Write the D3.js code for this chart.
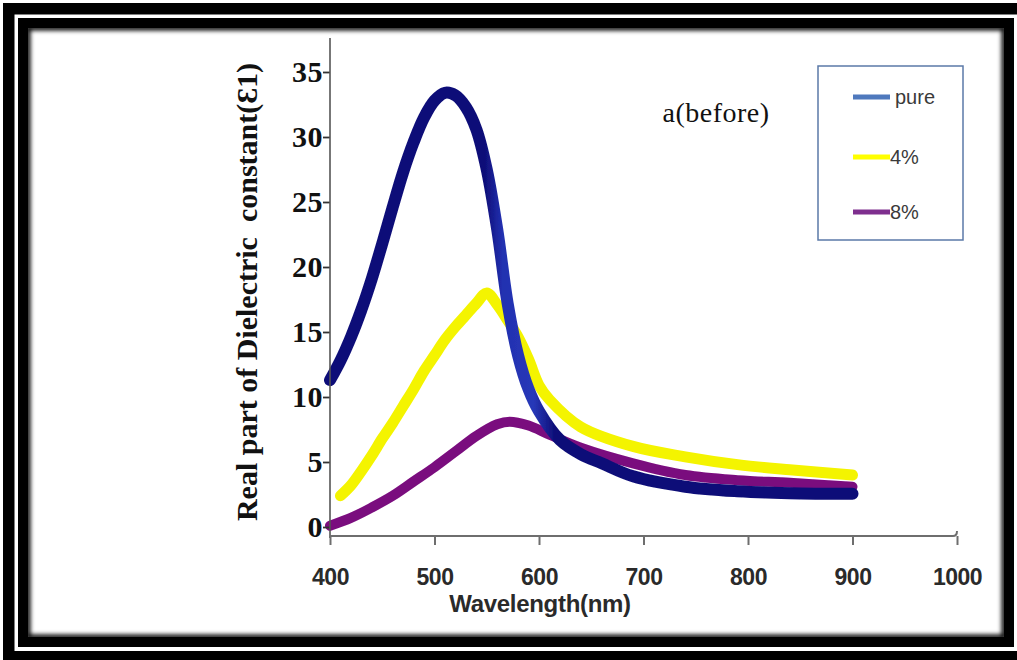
<!DOCTYPE html>
<html>
<head>
<meta charset="utf-8">
<script src="https://cdn.jsdelivr.net/npm/d3@7/dist/d3.min.js"></script>
<style>
  html, body { margin: 0; padding: 0; background: #fff; }
  svg { display: block; }
</style>
</head>
<body>
<svg id="chart" width="1017" height="660"></svg>
<script>
// Real part of the dielectric constant vs wavelength, three samples
const pureWavelength = [400,410,420,430,440,450,460,470,480,490,500,510,520,530,540,550,560,570,580,590,600,620,640,660,690,740,790,840,900];
const pureEps1      = [11.3,12.8,14.6,16.7,19.1,21.8,24.6,27.3,29.6,31.5,32.8,33.4,33.2,32.3,30.6,27.5,22.9,17.2,13.2,10.6,8.9,6.7,5.6,4.9,3.9,3.1,2.75,2.6,2.55];

const dope4Wavelength = [410,420,430,440,450,460,470,480,490,500,510,520,530,540,550,560,570,580,590,600,610,640,690,740,790,840,900];
const dope4Eps1       = [2.4,3.2,4.3,5.5,6.8,8.0,9.3,10.6,12.0,13.2,14.4,15.4,16.3,17.2,18.0,17.1,15.9,14.6,12.9,10.9,9.8,7.7,6.2,5.4,4.8,4.4,4.0];

const dope8Wavelength = [400,420,440,460,480,500,520,540,560,572,590,610,640,690,740,790,840,900];
const dope8Eps1       = [0.1,0.7,1.5,2.4,3.5,4.6,5.8,7.0,7.9,8.1,7.8,7.1,6.1,4.9,4.0,3.6,3.4,3.1];

const xTicks = [400,500,600,700,800,900,1000];
const yTicks = [0,5,10,15,20,25,30,35];

const seriesNames  = ["pure", "4%", "8%"];
const legendColors = ["#4f79bd", "#ffff00", "#7e2f8e"];
const curveColors  = ["#0e0e78", "#f4f400", "#7a0a7e"];

const svg = d3.select("#chart");
const W = 1017, H = 660;

// scales
const x = d3.scaleLinear().domain([400, 1000]).range([330, 957]);
const y = d3.scaleLinear().domain([0, 35]).range([527, 72]);
const xAxisY = y(0) + 9;

const defs = svg.append("defs");
defs.append("filter").attr("id", "soft").append("feGaussianBlur").attr("stdDeviation", 0.7);
defs.append("filter").attr("id", "shadow").append("feGaussianBlur").attr("stdDeviation", 2);
defs.append("clipPath").attr("id", "inner")
  .append("rect").attr("x", 28).attr("y", 28).attr("width", 976).attr("height", 609);

// the pure trace turns a slightly brighter blue on its steep falling edge
const pureGrad = defs.append("linearGradient").attr("id", "pureGrad")
  .attr("gradientUnits", "userSpaceOnUse")
  .attr("x1", x(548)).attr("x2", x(615)).attr("y1", 0).attr("y2", 0);
[[0, curveColors[0]], [0.25, "#2230b0"], [0.7, "#2838b8"], [1, curveColors[0]]]
  .forEach(([o, c]) => pureGrad.append("stop").attr("offset", o).attr("stop-color", c));

// page background
svg.append("rect").attr("width", W).attr("height", H).attr("fill", "#fff");

// double black frame
svg.append("rect").attr("x", 8.75).attr("y", 8.75).attr("width", 1030).attr("height", 648)
  .attr("fill", "none").attr("stroke", "#000").attr("stroke-width", 11.5);
svg.append("rect").attr("x", 23).attr("y", 23).attr("width", 986).attr("height", 619)
  .attr("fill", "none").attr("stroke", "#000").attr("stroke-width", 10);
svg.append("g").attr("clip-path", "url(#inner)")
  .append("rect").attr("x", 28).attr("y", 28).attr("width", 976).attr("height", 609)
  .attr("fill", "none").attr("stroke", "#000").attr("stroke-width", 5)
  .attr("filter", "url(#shadow)");

// curves (dense marker traces drawn as thick soft strokes)
const line = d3.line()
  .x(d => x(d[0])).y(d => y(d[1]))
  .curve(d3.curveCatmullRom.alpha(0.5));

const curves = [
  { data: d3.zip(dope4Wavelength, dope4Eps1), color: curveColors[1], width: 11 },
  { data: d3.zip(dope8Wavelength, dope8Eps1), color: curveColors[2], width: 10 },
  { data: d3.zip(pureWavelength, pureEps1),  color: "url(#pureGrad)", width: 12 }
];

const plot = svg.append("g").attr("filter", "url(#soft)");
curves.forEach(c => {
  plot.append("path").datum(c.data)
    .attr("d", line)
    .attr("fill", "none")
    .attr("stroke", c.color)
    .attr("stroke-width", c.width)
    .attr("stroke-linecap", "round")
    .attr("stroke-linejoin", "round");
});

// y axis
const yAxis = svg.append("g")
  .attr("transform", "translate(330,0)")
  .call(d3.axisLeft(y).tickValues(yTicks).tickSize(7).tickPadding(0).tickFormat(d3.format("d")));
yAxis.select(".domain").remove();
yAxis.append("line").attr("x1", 0).attr("x2", 0).attr("y1", 38).attr("y2", xAxisY + 2)
  .attr("stroke", "#555").attr("stroke-width", 1.6);
yAxis.selectAll(".tick line").attr("stroke", "#333").attr("stroke-width", 1.8);
yAxis.selectAll(".tick text")
  .attr("fill", "#111")
  .style("font-family", "'Liberation Serif', 'Times New Roman', serif")
  .style("font-weight", "bold")
  .style("font-size", "30px")
  .style("letter-spacing", "0.5px");

// x axis
const xAxis = svg.append("g")
  .attr("transform", `translate(0,${xAxisY})`)
  .call(d3.axisBottom(x).tickValues(xTicks).tickSize(9).tickPadding(24).tickFormat(d3.format("d")));
xAxis.select(".domain").remove();
xAxis.append("path")
  .attr("d", `M${x(400)},0 H${x(1000) - 4} Q${x(1000)},0 ${x(1000)},-5`)
  .attr("fill", "none").attr("stroke", "#6e6e6e").attr("stroke-width", 2);
xAxis.selectAll(".tick line").attr("stroke", "#6e6e6e").attr("stroke-width", 2);
xAxis.selectAll(".tick text")
  .attr("fill", "#2a2a2a")
  .style("font-family", "'Liberation Sans', Arial, sans-serif")
  .style("font-weight", "bold")
  .style("font-size", "23px")
  .style("letter-spacing", "-0.5px");

// axis titles
svg.append("text")
  .attr("x", 540).attr("y", 612)
  .attr("text-anchor", "middle")
  .attr("fill", "#2a2a2a")
  .style("font-family", "'Liberation Sans', Arial, sans-serif")
  .style("font-weight", "bold")
  .style("font-size", "24px")
  .style("letter-spacing", "-0.3px")
  .text("Wavelength(nm)");

svg.append("text")
  .attr("transform", "translate(257,292) rotate(-90)")
  .attr("text-anchor", "middle")
  .attr("fill", "#111")
  .style("font-family", "'Liberation Serif', 'Times New Roman', serif")
  .style("font-weight", "bold")
  .style("font-size", "30px")
  .style("white-space", "pre")
  .text("Real part of Dielectric  constant(Ɛ1)");

// panel label
svg.append("text")
  .attr("x", 716).attr("y", 122)
  .attr("text-anchor", "middle")
  .attr("fill", "#111")
  .style("font-family", "'Liberation Serif', 'Times New Roman', serif")
  .style("font-size", "28px")
  .style("letter-spacing", "0.5px")
  .text("a(before)");

// legend
const legend = svg.append("g");
legend.append("rect")
  .attr("x", 818).attr("y", 66).attr("width", 145).attr("height", 174)
  .attr("fill", "#fff").attr("stroke", "#5b79a8").attr("stroke-width", 1.5);
const legendY = [97, 157, 212];
seriesNames.forEach((name, i) => {
  legend.append("line")
    .attr("x1", 853).attr("x2", 890)
    .attr("y1", legendY[i]).attr("y2", legendY[i])
    .attr("stroke", legendColors[i]).attr("stroke-width", 5);
  legend.append("text")
    .attr("x", i === 0 ? 895 : 890).attr("y", legendY[i] + 7)
    .attr("fill", "#3a3a3a")
    .style("font-family", "'Liberation Sans Narrow', 'Liberation Sans', Arial, sans-serif")
    .style("font-size", "20px")
    .text(name);
});
</script>
</body>
</html>
